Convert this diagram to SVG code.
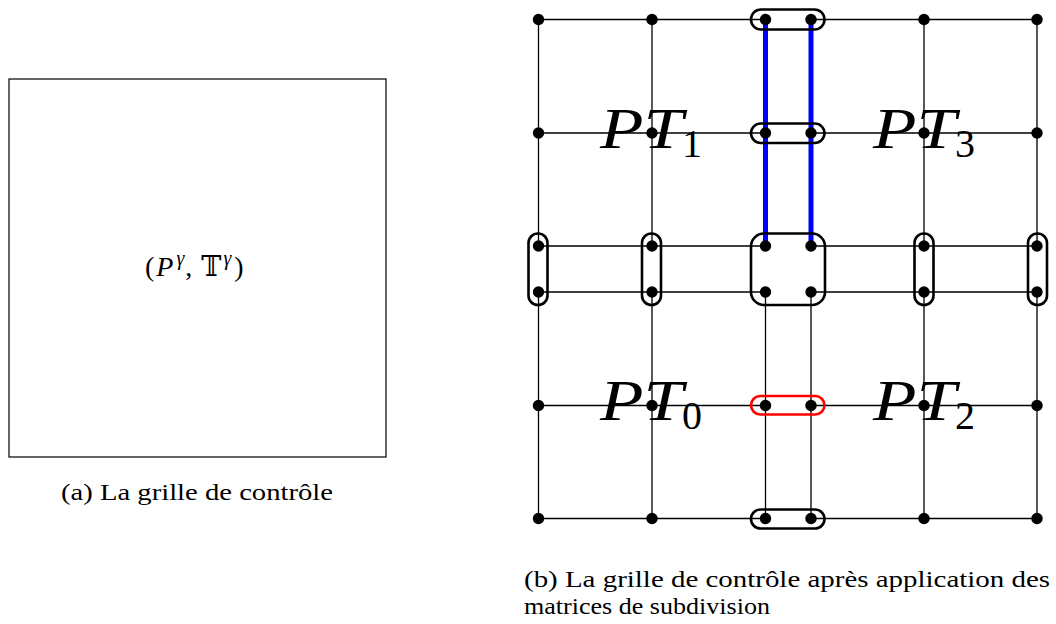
<svg xmlns="http://www.w3.org/2000/svg" width="1056" height="624" viewBox="0 0 1056 624">
<style>
.g{stroke:#000;stroke-width:1.3;fill:none}
.b{stroke:#0000ff;stroke-width:5;fill:none}
.cap{stroke:#000;stroke-width:2.6;fill:none}
.red{stroke:#ff0000;stroke-width:2.6;fill:none}
.d{fill:#000}
.lab{font-family:"Liberation Serif",serif;font-style:italic;font-size:58px;fill:#000}
.sub{font-family:"Liberation Serif",serif;font-size:40px;fill:#000}
.cap-t{font-family:"Liberation Serif",serif;font-size:24px;fill:#000}
.m{font-family:"Liberation Serif","DejaVu Serif",serif;font-size:28px;fill:#000}
</style>
<g id="panel-a">
<rect x="9" y="79" width="377" height="378" fill="none" stroke="#000" stroke-width="1.2"/>
<text class="m" x="145" y="276">(<tspan font-style="italic" dx="2">P</tspan><tspan font-size="20" font-style="italic" dx="3" dy="-11">γ</tspan><tspan dy="11" dx="1">,</tspan><tspan font-family="DejaVu Serif" font-size="27" dx="9">𝕋</tspan><tspan font-size="20" font-style="italic" dx="2" dy="-11">γ</tspan><tspan dy="11" dx="3">)</tspan></text>
<text class="cap-t" x="61" y="500" textLength="272" lengthAdjust="spacingAndGlyphs">(a) La grille de contrôle</text>
</g>
<g id="connectors">
<path class="g" d="M538.5 19.5H765.5M811 19.5H1037M538.5 133H765.5M811 133H1037M538.5 246H765.5M811 246H1037M538.5 292H765.5M811 292H1037M538.5 405.5H765.5M811 405.5H1037M538.5 518.5H765.5M811 518.5H1037"/>
<path class="g" d="M538.5 19.5V246M652 19.5V246M924 19.5V246M1037 19.5V246M538.5 292V518.5M652 292V518.5M765.5 292V518.5M811 292V518.5M924 292V518.5M1037 292V518.5"/>
<path class="b" d="M765.5 19.5V246M811 19.5V246"/>
</g>
<g id="groups">
<rect class="cap" x="751" y="9.5" width="73.5" height="20" rx="10"/>
<rect class="cap" x="751" y="123.5" width="73.5" height="19.5" rx="9.75"/>
<rect class="cap" x="751" y="233.5" width="74" height="71.5" rx="13"/>
<rect class="cap" x="528.5" y="233.5" width="19" height="71.5" rx="9.5"/>
<rect class="cap" x="642" y="233.5" width="19" height="71.5" rx="9.5"/>
<rect class="cap" x="914.5" y="233.5" width="19" height="71.5" rx="9.5"/>
<rect class="cap" x="1028" y="233.5" width="19" height="71.5" rx="9.5"/>
<rect class="red" x="751" y="396" width="73.5" height="18.5" rx="9.25"/>
<rect class="cap" x="751" y="509.5" width="73.5" height="19" rx="9.5"/>
</g>
<g id="points">
<circle class="d" cx="538.5" cy="19.5" r="5.7"/><circle class="d" cx="652" cy="19.5" r="5.7"/><circle class="d" cx="765.5" cy="19.5" r="5.7"/><circle class="d" cx="811" cy="19.5" r="5.7"/><circle class="d" cx="924" cy="19.5" r="5.7"/><circle class="d" cx="1037" cy="19.5" r="5.7"/>
<circle class="d" cx="538.5" cy="133" r="5.7"/><circle class="d" cx="652" cy="133" r="5.7"/><circle class="d" cx="765.5" cy="133" r="5.7"/><circle class="d" cx="811" cy="133" r="5.7"/><circle class="d" cx="924" cy="133" r="5.7"/><circle class="d" cx="1037" cy="133" r="5.7"/>
<circle class="d" cx="538.5" cy="246" r="5.7"/><circle class="d" cx="652" cy="246" r="5.7"/><circle class="d" cx="765.5" cy="246" r="5.7"/><circle class="d" cx="811" cy="246" r="5.7"/><circle class="d" cx="924" cy="246" r="5.7"/><circle class="d" cx="1037" cy="246" r="5.7"/>
<circle class="d" cx="538.5" cy="292" r="5.7"/><circle class="d" cx="652" cy="292" r="5.7"/><circle class="d" cx="765.5" cy="292" r="5.7"/><circle class="d" cx="811" cy="292" r="5.7"/><circle class="d" cx="924" cy="292" r="5.7"/><circle class="d" cx="1037" cy="292" r="5.7"/>
<circle class="d" cx="538.5" cy="405.5" r="5.7"/><circle class="d" cx="652" cy="405.5" r="5.7"/><circle class="d" cx="765.5" cy="405.5" r="5.7"/><circle class="d" cx="811" cy="405.5" r="5.7"/><circle class="d" cx="924" cy="405.5" r="5.7"/><circle class="d" cx="1037" cy="405.5" r="5.7"/>
<circle class="d" cx="538.5" cy="518.5" r="5.7"/><circle class="d" cx="652" cy="518.5" r="5.7"/><circle class="d" cx="765.5" cy="518.5" r="5.7"/><circle class="d" cx="811" cy="518.5" r="5.7"/><circle class="d" cx="924" cy="518.5" r="5.7"/><circle class="d" cx="1037" cy="518.5" r="5.7"/>
</g>
<g id="label-PT1"><text class="lab" x="600" y="148" textLength="83" lengthAdjust="spacingAndGlyphs">PT</text><text class="sub" x="682" y="157">1</text></g>
<g id="label-PT3"><text class="lab" x="873" y="148" textLength="83" lengthAdjust="spacingAndGlyphs">PT</text><text class="sub" x="955" y="157">3</text></g>
<g id="label-PT0"><text class="lab" x="600" y="420" textLength="83" lengthAdjust="spacingAndGlyphs">PT</text><text class="sub" x="682" y="429">0</text></g>
<g id="label-PT2"><text class="lab" x="873" y="420" textLength="83" lengthAdjust="spacingAndGlyphs">PT</text><text class="sub" x="955" y="429">2</text></g>
<g id="caption-b">
<text class="cap-t" x="524" y="587" textLength="526" lengthAdjust="spacingAndGlyphs">(b) La grille de contrôle après application des</text>
<text class="cap-t" x="524" y="614" textLength="246" lengthAdjust="spacingAndGlyphs">matrices de subdivision</text>
</g>
</svg>
